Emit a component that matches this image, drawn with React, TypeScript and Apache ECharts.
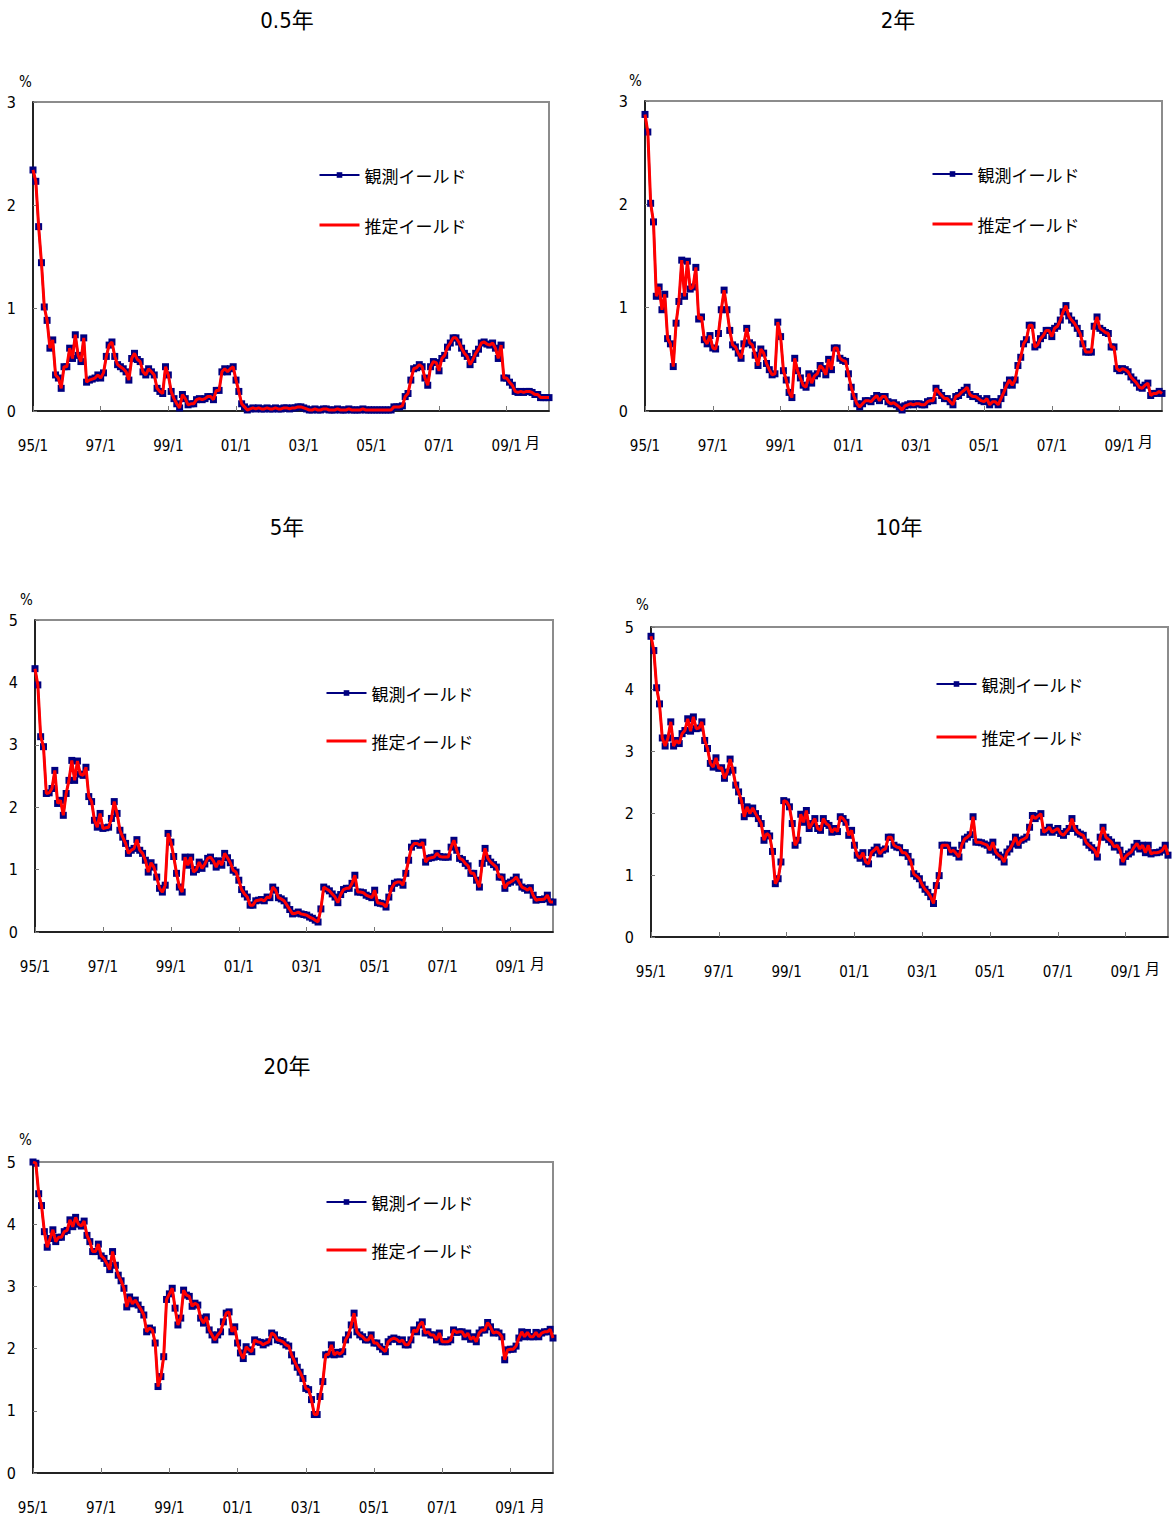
import React, { useEffect, useRef } from "react";
import * as echarts from "echarts";

// Monthly categories 1995/1 .. 2010/4
const categories: string[] = [];
for (let y = 1995; y <= 2010; y++) {
  for (let m = 1; m <= 12; m++) {
    if (categories.length < 184) categories.push(`${String(y % 100).padStart(2, "0")}/${m}`);
  }
}

const titles = ["0.5年", "2年", "5年", "10年", "20年"];
const seriesNames = ["観測イールド", "推定イールド"];
const yMax = [3, 3, 5, 5, 5];

// 0.5-year observed yield (%)
const obs05 = [
  2.34, 2.23, 1.79, 1.44, 1.01, 0.88, 0.61, 0.69, 0.35, 0.32,
  0.22, 0.43, 0.43, 0.61, 0.51, 0.74, 0.54, 0.48, 0.71, 0.28,
  0.30, 0.31, 0.32, 0.35, 0.32, 0.37, 0.53, 0.64, 0.67, 0.53,
  0.45, 0.43, 0.41, 0.38, 0.30, 0.51, 0.56, 0.50, 0.48, 0.38,
  0.35, 0.41, 0.38, 0.35, 0.22, 0.19, 0.17, 0.43, 0.35, 0.19,
  0.12, 0.07, 0.03, 0.16, 0.12, 0.06, 0.07, 0.07, 0.11, 0.12,
  0.11, 0.12, 0.14, 0.14, 0.11, 0.20, 0.20, 0.38, 0.41, 0.38,
  0.41, 0.43, 0.30, 0.19, 0.07, 0.04, 0.01, 0.02, 0.03, 0.02,
  0.03, 0.02, 0.02, 0.03, 0.02, 0.02, 0.03, 0.02, 0.02, 0.03,
  0.03, 0.02, 0.03, 0.03, 0.04, 0.04, 0.03, 0.02, 0.01, 0.01,
  0.02, 0.01, 0.01, 0.02, 0.02, 0.01, 0.01, 0.01, 0.02, 0.01,
  0.01, 0.01, 0.02, 0.01, 0.01, 0.01, 0.01, 0.02, 0.01, 0.01,
  0.01, 0.01, 0.01, 0.01, 0.01, 0.01, 0.01, 0.01, 0.04, 0.04,
  0.04, 0.05, 0.14, 0.17, 0.30, 0.41, 0.42, 0.45, 0.43, 0.32,
  0.25, 0.43, 0.48, 0.47, 0.39, 0.51, 0.54, 0.62, 0.66, 0.71,
  0.71, 0.67, 0.61, 0.56, 0.53, 0.45, 0.50, 0.56, 0.60, 0.66,
  0.67, 0.65, 0.64, 0.66, 0.61, 0.51, 0.64, 0.32, 0.32, 0.28,
  0.25, 0.19, 0.18, 0.19, 0.18, 0.19, 0.19, 0.18, 0.16, 0.16,
  0.13, 0.13, 0.13, 0.13,
];

// 2-year observed yield (%)
const obs2 = [
  2.87, 2.70, 2.01, 1.83, 1.11, 1.20, 0.98, 1.13, 0.70, 0.65,
  0.43, 0.85, 1.06, 1.46, 1.11, 1.45, 1.18, 1.20, 1.39, 0.89,
  0.91, 0.69, 0.65, 0.73, 0.61, 0.60, 0.75, 0.98, 1.17, 0.98,
  0.78, 0.64, 0.62, 0.56, 0.51, 0.65, 0.80, 0.66, 0.64, 0.54,
  0.44, 0.60, 0.56, 0.46, 0.40, 0.35, 0.36, 0.86, 0.72, 0.39,
  0.30, 0.18, 0.13, 0.51, 0.39, 0.32, 0.25, 0.23, 0.36, 0.27,
  0.34, 0.36, 0.44, 0.41, 0.35, 0.50, 0.40, 0.61, 0.61, 0.51,
  0.49, 0.48, 0.36, 0.23, 0.14, 0.07, 0.04, 0.07, 0.10, 0.10,
  0.09, 0.12, 0.15, 0.10, 0.14, 0.14, 0.09, 0.07, 0.08, 0.06,
  0.04, 0.01, 0.05, 0.06, 0.07, 0.06, 0.07, 0.07, 0.06, 0.06,
  0.09, 0.10, 0.10, 0.22, 0.18, 0.15, 0.12, 0.12, 0.09, 0.06,
  0.14, 0.15, 0.18, 0.20, 0.23, 0.16, 0.14, 0.14, 0.12, 0.10,
  0.09, 0.12, 0.06, 0.09, 0.09, 0.06, 0.12, 0.18, 0.25, 0.30,
  0.25, 0.30, 0.44, 0.52, 0.65, 0.69, 0.83, 0.83, 0.62, 0.64,
  0.70, 0.73, 0.78, 0.78, 0.72, 0.80, 0.82, 0.88, 0.96, 1.02,
  0.92, 0.88, 0.85, 0.80, 0.75, 0.65, 0.57, 0.57, 0.57, 0.82,
  0.91, 0.80, 0.78, 0.76, 0.75, 0.62, 0.62, 0.41, 0.39, 0.41,
  0.40, 0.38, 0.33, 0.30, 0.27, 0.23, 0.22, 0.25, 0.27, 0.15,
  0.17, 0.17, 0.19, 0.17,
];

// 5-year observed yield (%)
const obs5 = [
  4.22, 3.96, 3.13, 2.97, 2.22, 2.23, 2.30, 2.59, 2.06, 2.11,
  1.87, 2.22, 2.43, 2.75, 2.43, 2.74, 2.53, 2.51, 2.64, 2.17,
  2.09, 1.79, 1.68, 1.90, 1.66, 1.67, 1.68, 1.82, 2.09, 1.90,
  1.63, 1.52, 1.42, 1.26, 1.31, 1.34, 1.48, 1.31, 1.26, 1.15,
  0.96, 1.11, 1.04, 0.88, 0.70, 0.64, 0.75, 1.58, 1.44, 1.21,
  0.94, 0.72, 0.64, 1.20, 1.07, 1.20, 0.96, 1.00, 1.12, 1.02,
  1.09, 1.18, 1.20, 1.14, 1.04, 1.14, 1.07, 1.26, 1.19, 1.11,
  0.99, 0.96, 0.83, 0.68, 0.61, 0.56, 0.43, 0.43, 0.50, 0.51,
  0.52, 0.50, 0.56, 0.55, 0.72, 0.67, 0.55, 0.53, 0.50, 0.43,
  0.36, 0.29, 0.30, 0.32, 0.29, 0.28, 0.27, 0.24, 0.22, 0.19,
  0.16, 0.37, 0.72, 0.69, 0.66, 0.61, 0.56, 0.47, 0.60, 0.68,
  0.70, 0.70, 0.78, 0.91, 0.64, 0.64, 0.63, 0.59, 0.57, 0.55,
  0.67, 0.47, 0.46, 0.45, 0.40, 0.56, 0.70, 0.78, 0.80, 0.80,
  0.75, 0.94, 1.15, 1.36, 1.42, 1.42, 1.39, 1.44, 1.12, 1.18,
  1.19, 1.20, 1.26, 1.21, 1.20, 1.20, 1.20, 1.36, 1.47, 1.31,
  1.18, 1.16, 1.10, 1.06, 0.94, 0.94, 0.83, 0.72, 1.10, 1.34,
  1.18, 1.12, 1.08, 1.04, 0.88, 0.88, 0.70, 0.78, 0.80, 0.83,
  0.88, 0.80, 0.72, 0.70, 0.67, 0.71, 0.59, 0.51, 0.52, 0.52,
  0.53, 0.59, 0.48, 0.48,
];

// 10-year observed yield (%)
const obs10 = [
  4.85, 4.62, 4.02, 3.76, 3.21, 3.08, 3.21, 3.47, 3.08, 3.17,
  3.12, 3.28, 3.33, 3.52, 3.32, 3.55, 3.36, 3.37, 3.47, 3.17,
  3.04, 2.80, 2.74, 2.89, 2.72, 2.73, 2.56, 2.66, 2.87, 2.69,
  2.45, 2.34, 2.20, 1.94, 2.10, 1.99, 2.08, 1.99, 1.91, 1.83,
  1.56, 1.67, 1.63, 1.38, 0.86, 0.94, 1.21, 2.20, 2.18, 2.10,
  1.83, 1.48, 1.56, 1.98, 1.85, 2.04, 1.75, 1.83, 1.91, 1.75,
  1.72, 1.91, 1.83, 1.80, 1.69, 1.75, 1.70, 1.94, 1.91, 1.85,
  1.64, 1.72, 1.48, 1.32, 1.27, 1.36, 1.21, 1.18, 1.36, 1.40,
  1.45, 1.34, 1.40, 1.42, 1.61, 1.61, 1.48, 1.45, 1.44, 1.36,
  1.36, 1.30, 1.21, 1.02, 0.98, 0.94, 0.84, 0.77, 0.72, 0.65,
  0.54, 0.83, 0.99, 1.48, 1.48, 1.48, 1.37, 1.40, 1.35, 1.29,
  1.48, 1.58, 1.61, 1.65, 1.94, 1.53, 1.53, 1.52, 1.50, 1.48,
  1.40, 1.53, 1.37, 1.32, 1.29, 1.21, 1.37, 1.42, 1.50, 1.61,
  1.48, 1.56, 1.58, 1.61, 1.77, 1.96, 1.91, 1.95, 1.99, 1.69,
  1.72, 1.77, 1.69, 1.72, 1.75, 1.67, 1.64, 1.70, 1.75, 1.91,
  1.75, 1.69, 1.66, 1.64, 1.53, 1.48, 1.44, 1.40, 1.29, 1.61,
  1.77, 1.61, 1.57, 1.53, 1.45, 1.48, 1.40, 1.21, 1.30, 1.34,
  1.37, 1.45, 1.51, 1.42, 1.48, 1.36, 1.48, 1.34, 1.36, 1.36,
  1.37, 1.40, 1.48, 1.32,
];

// 20-year observed yield (%)
const obs20 = [
  5.00, 4.98, 4.49, 4.30, 3.88, 3.63, 3.77, 3.91, 3.72, 3.79,
  3.79, 3.88, 3.90, 4.07, 3.96, 4.11, 4.00, 3.97, 4.05, 3.82,
  3.72, 3.56, 3.56, 3.68, 3.49, 3.45, 3.37, 3.27, 3.56, 3.34,
  3.18, 3.09, 2.97, 2.67, 2.83, 2.72, 2.78, 2.70, 2.63, 2.54,
  2.27, 2.33, 2.30, 2.09, 1.39, 1.55, 1.87, 2.79, 2.88, 2.97,
  2.65, 2.38, 2.49, 2.94, 2.86, 2.84, 2.68, 2.73, 2.70, 2.49,
  2.41, 2.51, 2.30, 2.22, 2.14, 2.22, 2.27, 2.43, 2.57, 2.59,
  2.27, 2.35, 2.09, 1.93, 1.84, 2.03, 1.98, 1.95, 2.14, 2.11,
  2.10, 2.06, 2.09, 2.11, 2.25, 2.22, 2.14, 2.13, 2.11, 2.06,
  2.04, 1.90, 1.80, 1.70, 1.62, 1.52, 1.36, 1.34, 1.18, 0.94,
  0.94, 1.23, 1.47, 1.90, 1.91, 2.06, 1.90, 1.94, 1.91, 1.95,
  2.14, 2.22, 2.38, 2.57, 2.27, 2.22, 2.19, 2.14, 2.14, 2.22,
  2.09, 2.09, 2.03, 1.99, 1.95, 2.11, 2.15, 2.17, 2.15, 2.11,
  2.14, 2.06, 2.06, 2.14, 2.30, 2.27, 2.38, 2.43, 2.25, 2.27,
  2.22, 2.22, 2.14, 2.25, 2.11, 2.11, 2.11, 2.14, 2.30, 2.26,
  2.27, 2.27, 2.19, 2.25, 2.15, 2.19, 2.11, 2.25, 2.30, 2.30,
  2.42, 2.35, 2.25, 2.27, 2.25, 2.19, 1.82, 1.98, 1.99, 1.99,
  2.04, 2.17, 2.27, 2.19, 2.26, 2.19, 2.19, 2.26, 2.19, 2.25,
  2.27, 2.27, 2.31, 2.17,
];

// The estimated yields coincide with the observed ones at this scale
const est05 = obs05;
const est2 = obs2;
const est5 = obs5;
const est10 = obs10;
const est20 = obs20;

const observed = [obs05, obs2, obs5, obs10, obs20];
const estimated = [est05, est2, est5, est10, est20];

// layout (page pixels)
const grids = [
  { left: 33, top: 102, width: 516, height: 309 },
  { left: 645, top: 101, width: 517, height: 310 },
  { left: 35, top: 620, width: 518, height: 312 },
  { left: 651, top: 627, width: 517, height: 310 },
  { left: 33, top: 1162, width: 520, height: 311 },
];
const titlePos = [
  { x: 287, y: 20 },
  { x: 898, y: 20 },
  { x: 287, y: 527 },
  { x: 899, y: 527 },
  { x: 287, y: 1066 },
];
const legendPos = [
  { left: 318, top: 165, gap: 30 },
  { left: 931, top: 164, gap: 30 },
  { left: 325, top: 683, gap: 28 },
  { left: 935, top: 674, gap: 33 },
  { left: 325, top: 1192, gap: 28 },
];
const pctPos = [
  { x: 24, y: 83 },
  { x: 634, y: 82 },
  { x: 25, y: 601 },
  { x: 641, y: 606 },
  { x: 24, y: 1141 },
];
const monthPos = [
  { x: 533, y: 443 },
  { x: 1146, y: 442 },
  { x: 538, y: 964 },
  { x: 1153, y: 969 },
  { x: 538, y: 1506 },
];

const FONT = "'Liberation Sans Narrow', 'DejaVu Sans Condensed', 'Noto Sans CJK JP', sans-serif";
const CJK = "'Noto Sans CJK JP', sans-serif";

export default function App() {
  const ref = useRef<HTMLDivElement>(null);
  useEffect(() => {
    if (!ref.current) return;
    const chart = echarts.init(ref.current, undefined, { renderer: "svg" });
    const option: any = {
      animation: false,
      backgroundColor: "#ffffff",
      textStyle: { fontFamily: FONT },
      title: titles.map((t, k) => ({
        text: t,
        left: titlePos[k].x,
        top: titlePos[k].y - 11,
        textAlign: "center",
        padding: 0,
        textStyle: { fontFamily: FONT, fontSize: 22, fontWeight: "normal", color: "#000" },
      })),
      legend: legendPos.map((p) => ({
        orient: "vertical",
        left: p.left,
        top: p.top,
        padding: 0,
        itemGap: p.gap,
        itemWidth: 40,
        itemHeight: 7,
        selectedMode: false,
        data: [
          { name: seriesNames[0], lineStyle: { width: 2 } },
          { name: seriesNames[1], itemStyle: { opacity: 0 }, lineStyle: { width: 3 } },
        ],
        textStyle: { fontFamily: CJK, fontSize: 17, color: "#000", lineHeight: 20 },
      })),
      grid: grids.map((g) => ({
        left: g.left,
        top: g.top,
        width: g.width,
        height: g.height,
        show: true,
        borderColor: "#8c8c8c",
        borderWidth: 2,
        containLabel: false,
      })),
      xAxis: grids.map((_, k) => ({
        type: "category",
        gridIndex: k,
        data: categories,
        boundaryGap: false,
        axisLine: { lineStyle: { color: "#000", width: 1.5 } },
        axisTick: { show: true, inside: true, length: 5, interval: 23, lineStyle: { color: "#777" } },
        axisLabel: { interval: 23, margin: 27, fontSize: 15, color: "#000", fontFamily: FONT },
        splitLine: { show: false },
      })),
      yAxis: grids.map((_, k) => ({
        type: "value",
        gridIndex: k,
        min: 0,
        max: yMax[k],
        interval: 1,
        axisLine: { show: true, lineStyle: { color: "#000", width: 1.5 } },
        axisTick: { show: true, inside: true, length: 4, lineStyle: { color: "#777" } },
        axisLabel: { margin: 17, fontSize: 16, color: "#000", fontFamily: FONT },
        splitLine: { show: false },
      })),
      series: grids.flatMap((_, k) => [
        {
          name: seriesNames[0],
          type: "line",
          xAxisIndex: k,
          yAxisIndex: k,
          data: observed[k],
          symbol: "rect",
          symbolSize: 7,
          showSymbol: true,
          showAllSymbol: true,
          lineStyle: { color: "#000080", width: 2 },
          itemStyle: { color: "#000080" },
          z: 2,
        },
        {
          name: seriesNames[1],
          type: "line",
          xAxisIndex: k,
          yAxisIndex: k,
          data: estimated[k],
          symbol: "none",
          lineStyle: { color: "#ff0000", width: 3 },
          itemStyle: { color: "#ff0000" },
          z: 3,
        },
      ]),
      graphic: [
        ...pctPos.map((p) => ({
          type: "text",
          left: p.x - 5,
          top: p.y - 9,
          style: { text: "%", fontFamily: FONT, fontSize: 15, fill: "#000" },
        })),
        ...monthPos.map((p) => ({
          type: "text",
          left: p.x - 8,
          top: p.y - 9,
          style: { text: "月", fontFamily: CJK, fontSize: 15, fill: "#000" },
        })),
      ],
    };
    chart.setOption(option);
    return () => chart.dispose();
  }, []);
  return (
    <div
      ref={ref}
      style={{ position: "absolute", left: 0, top: 0, width: 1172, height: 1521, background: "#fff" }}
    />
  );
}
